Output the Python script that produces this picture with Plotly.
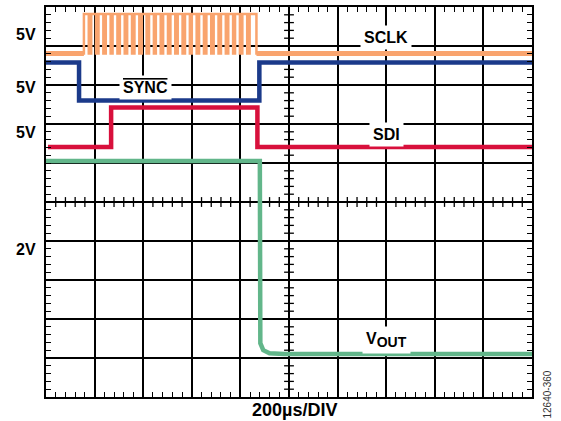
import numpy as np
import plotly.graph_objects as go

# ── DATA (screen divisions, 10 x 10 grid) ─────────────────────
# SCLK: 24 clock pulses
sclk_low, sclk_high = 8.81, 9.82
sclk_rise = [0.78, 0.93, 1.08, 1.23, 1.37, 1.52, 1.67, 1.82, 1.97, 2.12, 2.26, 2.41,
             2.56, 2.71, 2.86, 3.00, 3.15, 3.30, 3.45, 3.60, 3.75, 3.89, 4.04, 4.19]
sclk_fall = [0.88, 1.03, 1.18, 1.33, 1.47, 1.62, 1.77, 1.92, 2.07, 2.22, 2.36, 2.51,
             2.66, 2.81, 2.96, 3.10, 3.25, 3.40, 3.55, 3.70, 3.85, 3.99, 4.14, 4.33]

# SYNC (active low)
sync_t = [0.0, 0.68, 4.39, 10.0]
sync_v = [8.58, 7.60, 8.58, 8.58]

# SDI
sdi_t = [0.04, 1.34, 4.35, 10.0]
sdi_v = [6.41, 7.42, 6.41, 6.41]

# VOUT
vout_t = [0.0, 4.40, 4.41, 4.47, 4.60, 4.90, 10.0]
vout_v = [6.05, 6.05, 1.38, 1.20, 1.12, 1.10, 1.10]

volt_labels = ["5V", "5V", "5V", "2V"]
volt_label_y = [9.29, 7.94, 6.79, 3.78]

C_SCLK = "#F9A46E"
C_SYNC = "#1B3A8A"
C_SDI = "#D8103C"
C_VOUT = "#62B68A"
FONT = "Liberation Sans, Arial, sans-serif"

# build the SCLK step waveform from its edges
sx, sy = [0.0], [sclk_low]
for r, f in zip(sclk_rise, sclk_fall):
    sx += [r, r, f, f]
    sy += [sclk_low, sclk_high, sclk_high, sclk_low]
sx.append(10.0)
sy.append(sclk_low)

fig = go.Figure()

# minor ticks on the centre cross-hair
minor = [v for v in np.arange(0.2, 10, 0.2) if abs(v - round(v)) > 1e-6]
fig.add_trace(go.Scatter(x=[5] * len(minor), y=minor, mode="markers", hoverinfo="skip",
                         marker=dict(symbol="line-ew", size=7, line=dict(color="black", width=1.3))))
fig.add_trace(go.Scatter(x=minor, y=[5] * len(minor), mode="markers", hoverinfo="skip",
                         marker=dict(symbol="line-ns", size=7, line=dict(color="black", width=1.3))))

fig.add_trace(go.Scatter(x=vout_t, y=vout_v, mode="lines", line=dict(color=C_VOUT, width=4.5)))
fig.add_trace(go.Scatter(x=sdi_t, y=sdi_v, mode="lines", line_shape="hv",
                         line=dict(color=C_SDI, width=4.5)))
fig.add_trace(go.Scatter(x=sync_t, y=sync_v, mode="lines", line_shape="hv",
                         line=dict(color=C_SYNC, width=4.5)))
fig.add_trace(go.Scatter(x=sx, y=sy, mode="lines", line=dict(color=C_SCLK, width=2.5)))
# idle SCLK level is noisier, so it reads thicker
fig.add_trace(go.Scatter(x=[0, sclk_rise[0], None, sclk_fall[-1], 10],
                         y=[sclk_low, sclk_low, None, sclk_low, sclk_low],
                         mode="lines", line=dict(color=C_SCLK, width=5)))

axis = dict(range=[0, 10], dtick=1, showgrid=True, gridcolor="black", gridwidth=1.5,
            zeroline=False, showline=True, linecolor="black", linewidth=2, mirror="ticks",
            ticks="inside", ticklen=5, tickcolor="black", tickwidth=1.3, showticklabels=False,
            minor=dict(dtick=0.2, ticks="inside", ticklen=5, tickcolor="black", tickwidth=1.3,
                       showgrid=False))

fig.update_layout(
    width=561, height=421, showlegend=False,
    margin=dict(l=46, r=29, t=5, b=24),
    paper_bgcolor="white", plot_bgcolor="white",
    xaxis=axis, yaxis=axis,
    font=dict(family=FONT, color="black"),
)

def trace_label(text, x, y):
    fig.add_annotation(x=x, y=y, text=f"<b>{text}</b>", showarrow=False,
                       font=dict(size=16, family=FONT, color="black"),
                       bgcolor="white", borderpad=3)

trace_label("SCLK", 7.0, 9.21)
trace_label("<span style='text-decoration:overline'>SYNC</span>", 2.04, 7.93)
trace_label("SDI", 7.0, 6.73)
trace_label("V<sub><span style='font-size:14px'>OUT</span></sub>", 7.0, 1.45)

for t, y in zip(volt_labels, volt_label_y):
    fig.add_annotation(xref="paper", x=0, xanchor="right", xshift=-8, y=y, yref="y",
                       text=f"<b>{t}</b>", showarrow=False,
                       font=dict(size=16, family=FONT, color="black"))

fig.add_annotation(x=5.12, xref="x", y=0, yref="paper", yanchor="top", yshift=-1,
                   text="<b>200µs/DIV</b>", showarrow=False,
                   font=dict(size=18, family=FONT, color="black"))
fig.add_annotation(x=1, xref="paper", xshift=22, y=0, yref="paper", yanchor="middle", yshift=2,
                   text="12640-360", textangle=-90, showarrow=False,
                   font=dict(size=10, family=FONT, color="#333333"))

# page body has a default 8px margin; drop it so the figure sits at the window origin
fig.write_html("out.html", config={"displayModeBar": False},
               post_script="document.body.style.margin='0';")
